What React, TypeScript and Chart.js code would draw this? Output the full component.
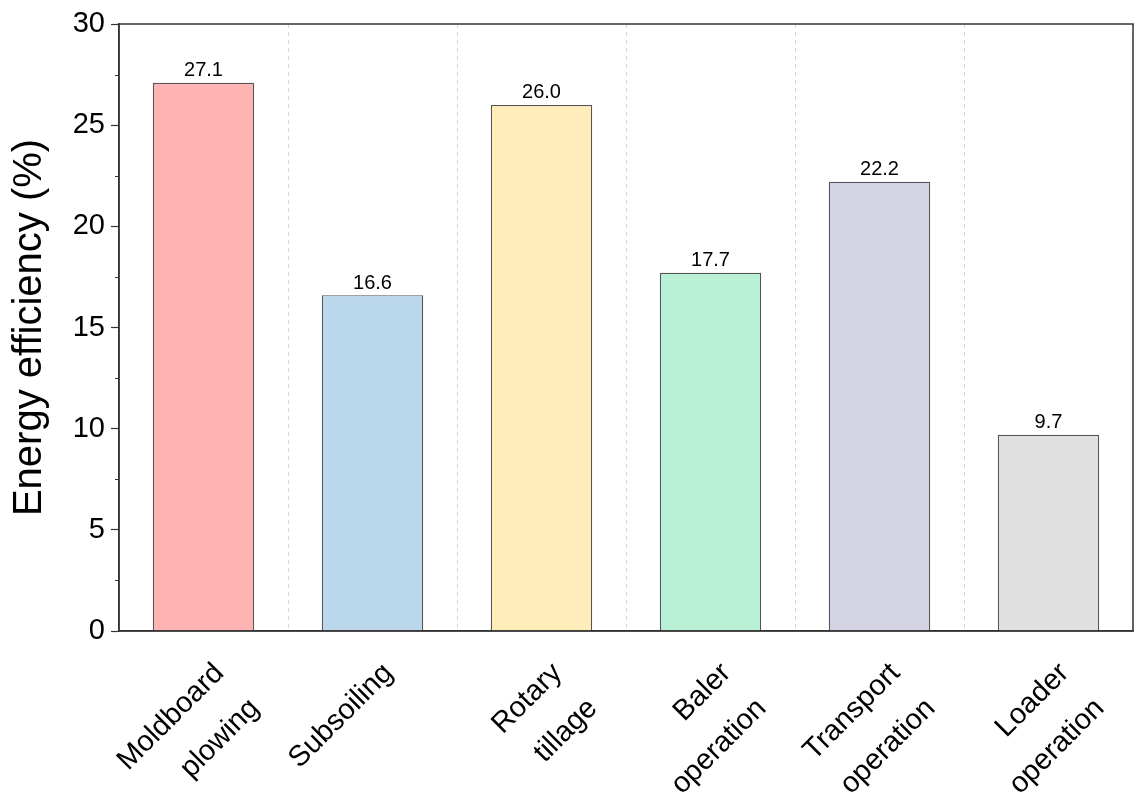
import { useEffect, useRef } from "react"
import { Chart, registerables, type Plugin } from "chart.js"

Chart.register(...registerables)

const categories: string[][] = [
  ["Moldboard", "plowing"],
  ["Subsoiling"],
  ["Rotary", "tillage"],
  ["Baler", "operation"],
  ["Transport", "operation"],
  ["Loader", "operation"],
]
const efficiency = [27.1, 16.6, 26.0, 17.7, 22.2, 9.7]
const barColors = ["#FFB3B3", "#BBD7EC", "#FFEDB9", "#B8F0D6", "#D5D4E4", "#E0E0E0"]
const minorTicks = [2.5, 7.5, 12.5, 17.5, 22.5, 27.5]

const FONT = "'Liberation Sans', Arial, sans-serif"

// frame round the plot, minor y ticks and value labels on the bars
const decorations: Plugin<"bar"> = {
  id: "decorations",
  afterDatasetsDraw(chart) {
    const { ctx, chartArea } = chart
    const y = chart.scales.y
    ctx.save()
    ctx.strokeStyle = "#333"
    ctx.lineWidth = 1.5
    ctx.strokeRect(chartArea.left, chartArea.top, chartArea.right - chartArea.left, chartArea.bottom - chartArea.top)

    ctx.beginPath()
    minorTicks.forEach((v) => {
      const py = Math.round(y.getPixelForValue(v)) + 0.5
      ctx.moveTo(chartArea.left - 4, py)
      ctx.lineTo(chartArea.left, py)
    })
    ctx.lineWidth = 1.2
    ctx.stroke()

    ctx.fillStyle = "#000"
    ctx.font = `20px ${FONT}`
    ctx.textAlign = "center"
    ctx.textBaseline = "bottom"
    chart.getDatasetMeta(0).data.forEach((bar, i) => {
      ctx.fillText(efficiency[i].toFixed(1), bar.x, bar.y - 2)
    })
    ctx.restore()
  },
}

export default function App() {
  const canvasRef = useRef<HTMLCanvasElement>(null)

  useEffect(() => {
    if (!canvasRef.current) return
    const chart = new Chart(canvasRef.current, {
      type: "bar",
      data: {
        labels: categories,
        datasets: [
          {
            data: efficiency,
            backgroundColor: barColors,
            borderColor: "#555",
            borderWidth: 1.2,
            categoryPercentage: 1,
            barPercentage: 0.6,
          },
        ],
      },
      options: {
        animation: false,
        responsive: true,
        maintainAspectRatio: false,
        layout: { padding: { top: 24, right: 14, left: 0, bottom: 0 } },
        plugins: {
          legend: { display: false },
          tooltip: { enabled: false },
        },
        scales: {
          x: {
            offset: true,
            afterFit: (scale) => {
              scale.height = 172
              scale.paddingLeft = 0
              scale.paddingRight = 0
            },
            grid: {
              display: true,
              offset: true,
              drawTicks: false,
              color: "#d8d8d8",
              lineWidth: 1,
            },
            border: { display: true, color: "#333", width: 1.5, dash: [4, 4] },
            ticks: {
              color: "#000",
              font: { family: FONT, size: 29, lineHeight: 1.72 },
              minRotation: 45,
              maxRotation: 45,
              padding: 20,
              labelOffset: 16,
            },
          },
          y: {
            min: 0,
            max: 30,
            afterFit: (scale) => {
              scale.width = 119
            },
            grid: {
              drawOnChartArea: false,
              drawTicks: true,
              tickLength: 8,
              tickColor: "#333",
              tickWidth: 1.2,
            },
            border: { display: true, color: "#333", width: 1.5 },
            ticks: {
              stepSize: 5,
              color: "#000",
              font: { family: FONT, size: 29 },
              padding: 6,
            },
            title: {
              display: true,
              text: "Energy efficiency (%)",
              color: "#000",
              font: { family: FONT, size: 40 },
              padding: { top: 6, bottom: 0 },
            },
          },
        },
      },
      plugins: [decorations],
    })
    return () => chart.destroy()
  }, [])

  return (
    <div style={{ position: "fixed", left: 0, top: 0, width: 1147, height: 803, background: "#fff" }}>
      <canvas ref={canvasRef} />
    </div>
  )
}
